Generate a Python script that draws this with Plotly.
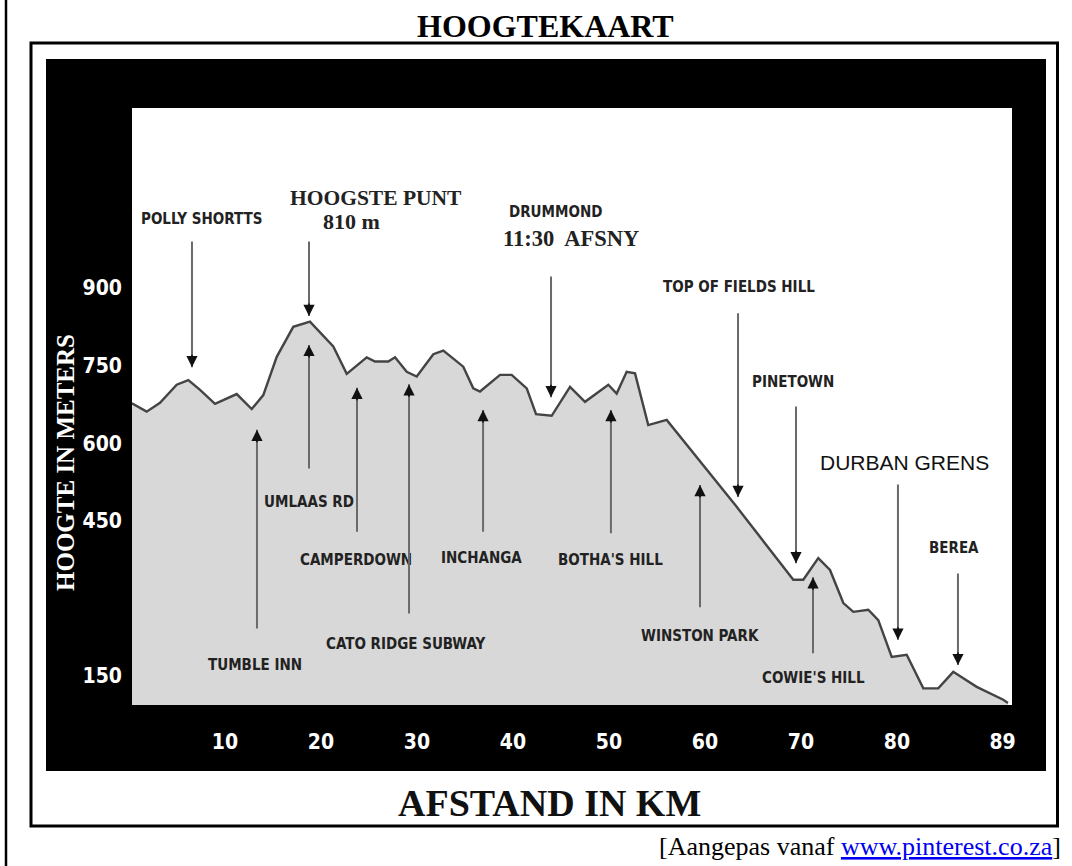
import plotly.graph_objects as go

# ---------------- data ----------------
DIST_KM = [0.3, 1.84, 3.23, 4.97, 6.18, 7.40, 8.96, 11.22, 12.78, 13.99, 15.39, 17.11,
           18.85, 21.28, 22.68, 24.76, 25.63, 27.01, 27.71, 28.93, 29.97, 31.70, 32.74,
           34.82, 35.86, 36.56, 38.65, 39.86, 41.43, 42.40, 44.03, 45.94, 47.50, 49.93,
           50.80, 51.84, 52.71, 54.09, 56.01, 63.30, 69.20, 70.24, 71.80, 73.02, 74.41,
           75.45, 77.01, 78.05, 79.45, 81.01, 82.74, 84.30, 85.86, 88.30, 91.07, 91.56]
HEIGHT_M = [677, 661, 678, 713, 722, 703, 676, 695, 666, 693, 767, 825,
            835, 787, 734, 766, 758, 758, 766, 738, 729, 772, 779,
            748, 706, 700, 732, 732, 706, 656, 653, 709, 680, 713,
            696, 738, 735, 635, 645, 477, 336, 336, 378, 355, 291,
            274, 278, 258, 187, 191, 126, 126, 158, 129, 104, 98]

X_TICK_LABELS = ["10", "20", "30", "40", "50", "60", "70", "80", "89"]
X_TICK_KM = [10, 20, 30, 40, 50, 60, 70, 80, 91]
Y_TICK_LABELS = ["150", "450", "600", "750", "900"]
Y_TICK_M = [150, 450, 600, 750, 900]

# places marked with a downward arrow (label above the profile)
DOWN_NAMES = ["POLLY SHORTTS", "HOOGSTE PUNT", "DRUMMOND", "TOP OF FIELDS HILL",
              "PINETOWN", "DURBAN GRENS", "BEREA"]
DOWN_KM = [6.56, 18.75, 43.96, 63.44, 69.48, 80.1, 86.35]
DOWN_TIP_M = [747, 846, 689, 496, 368, 220, 171]
DOWN_TAIL_M = [993, 993, 925, 854, 674, 523, 351]

# places marked with an upward arrow (label below the profile)
UP_NAMES = ["TUMBLE INN", "UMLAAS RD", "CAMPERDOWN", "CATO RIDGE SUBWAY",
            "INCHANGA", "BOTHA'S HILL", "WINSTON PARK", "COWIE'S HILL"]
UP_KM = [13.33, 18.75, 23.75, 29.17, 36.88, 50.2, 59.48, 71.25]
UP_TIP_M = [626, 790, 707, 714, 664, 664, 519, 341]
UP_TAIL_M = [239, 548, 426, 268, 426, 423, 280, 191]

# ---------------- layout helpers ----------------
W, H = 1072, 866
PL, PR, PT, PB = 132, 1012, 108, 705  # plot area in pixels


def px(xp):
    return (xp - PL) / (PR - PL)


def py(yp):
    return (PB - yp) / (PB - PT)


NARROW = "Liberation Sans Narrow, DejaVu Sans Condensed, Arial Narrow, sans-serif"
SERIF = "Liberation Serif, Times New Roman, serif"
SANS = "Liberation Sans, Arial, sans-serif"
LABEL_COL = "#222222"
SHAFT_COL = "#6a6a6a"

fig = go.Figure()
fig.add_trace(go.Scatter(
    x=DIST_KM, y=HEIGHT_M, mode="lines", fill="tozeroy",
    fillcolor="#d8d8d8", line=dict(color="#444444", width=2.4),
    hoverinfo="skip", showlegend=False))

ann = []

# label placements (data units)
down_label_pos = {
    "POLLY SHORTTS": (7.5, 1033),
    "HOOGSTE PUNT": (25.7, 1074),
    "DRUMMOND": (44.4, 1047),
    "TOP OF FIELDS HILL": (63.5, 902),
    "PINETOWN": (69.2, 718),
    "DURBAN GRENS": (80.8, 562),
    "BEREA": (85.9, 397),
}
up_label_pos = {
    "TUMBLE INN": (13.1, 171),
    "UMLAAS RD": (18.75, 486),
    "CAMPERDOWN": (23.65, 374),
    "CATO RIDGE SUBWAY": (28.85, 212),
    "INCHANGA": (36.67, 378),
    "BOTHA'S HILL": (50.2, 374),
    "WINSTON PARK": (59.48, 227),
    "COWIE'S HILL": (71.35, 146),
}


def arrow(xk, tip, tail, head_dir):
    ann.append(dict(x=xk, y=tip, ax=xk, ay=tail, xref="x", yref="y",
                    axref="x", ayref="y", text="", showarrow=True,
                    arrowhead=0, arrowwidth=2, arrowcolor=SHAFT_COL))
    ann.append(dict(x=xk, y=tip, ax=0, ay=head_dir * 14, xref="x", yref="y",
                    text="", showarrow=True, arrowhead=2, arrowsize=1.4,
                    arrowwidth=1.6, arrowcolor="#111111"))


LBL_FONT = dict(family=NARROW, size=15, color=LABEL_COL, weight="bold")

for name, xk, tip, tail in zip(DOWN_NAMES, DOWN_KM, DOWN_TIP_M, DOWN_TAIL_M):
    arrow(xk, tip, tail, -1)
    lx, ly = down_label_pos[name]
    if name == "HOOGSTE PUNT":
        font = dict(family=SERIF, size=21.5, color=LABEL_COL, weight="bold")
    elif name == "DURBAN GRENS":
        font = dict(family=SANS, size=21, color="#111111")
    else:
        font = LBL_FONT
    ann.append(dict(x=lx, y=ly, xref="x", yref="y", text=name, showarrow=False,
                    font=font))

ann.append(dict(x=23.2, y=1028, xref="x", yref="y", text="810 m", showarrow=False,
                font=dict(family=SERIF, size=22, color=LABEL_COL, weight="bold")))
ann.append(dict(x=46.0, y=995, xref="x", yref="y", text="11:30\u00a0 AFSNY",
                showarrow=False,
                font=dict(family=SERIF, size=22.5, color=LABEL_COL, weight="bold")))

for name, xk, tip, tail in zip(UP_NAMES, UP_KM, UP_TIP_M, UP_TAIL_M):
    arrow(xk, tip, tail, 1)
    lx, ly = up_label_pos[name]
    ann.append(dict(x=lx, y=ly, xref="x", yref="y", text=name, showarrow=False,
                    font=LBL_FONT))

# titles and footer
ann.append(dict(x=px(545), y=py(26), xref="paper", yref="paper", text="HOOGTEKAART",
                xanchor="center", yanchor="middle", showarrow=False,
                font=dict(family=SERIF, size=32, color="#000", weight="bold")))
ann.append(dict(x=px(549), y=py(803), xref="paper", yref="paper", text="AFSTAND IN KM",
                xanchor="center", yanchor="middle", showarrow=False,
                font=dict(family=SERIF, size=38, color="#111", weight="bold")))
ann.append(dict(x=px(66), y=py(463), xref="paper", yref="paper", text="HOOGTE IN METERS",
                xanchor="center", yanchor="middle", textangle=-90, showarrow=False,
                font=dict(family=SERIF, size=25, color="#ffffff", weight="bold")))
ann.append(dict(x=px(1063), y=py(846), xref="paper", yref="paper", xanchor="right",
                yanchor="middle",
                text="[Aangepas vanaf <a href='https://www.pinterest.co.za'>"
                     "<span style='color:#0000ee;text-decoration:underline'>www.pinterest.co.za</span></a>]",
                showarrow=False, font=dict(family=SERIF, size=26, color="#000")))

shapes = []
# black panel around the plot area (4 bands)
BL, BR, BT, BB = 46, 1046, 59, 771
for x0, y0, x1, y1 in [(BL, BT, BR, PT), (BL, PB, BR, BB), (BL, PT, PL, PB), (PR, PT, BR, PB)]:
    shapes.append(dict(type="rect", xref="paper", yref="paper", x0=px(x0), x1=px(x1),
                       y0=py(y0), y1=py(y1), fillcolor="#000", line=dict(width=0),
                       layer="below"))
# outer frame
shapes.append(dict(type="rect", xref="paper", yref="paper", x0=px(31), x1=px(1057.5),
                   y0=py(43), y1=py(826), line=dict(color="#000", width=3)))
# page edge line on the left
shapes.append(dict(type="line", xref="paper", yref="paper", x0=px(6), x1=px(6),
                   y0=py(0), y1=py(866), line=dict(color="#000", width=2.5)))

fig.update_layout(
    width=W, height=H, autosize=False,
    margin=dict(l=PL, r=W - PR, t=PT, b=H - PB, pad=0),
    paper_bgcolor="#ffffff", plot_bgcolor="#ffffff",
    showlegend=False,
    annotations=ann, shapes=shapes,
    xaxis=dict(range=[(PL - 129) / 9.6, (PR - 129) / 9.6], tickmode="array",
               tickvals=X_TICK_KM, ticktext=X_TICK_LABELS, showgrid=False,
               zeroline=False, showline=False, ticks="", ticklabelstandoff=22,
               tickfont=dict(family=NARROW, size=21, color="#ffffff", weight="bold"),
               fixedrange=True),
    yaxis=dict(range=[93.9, 1248], tickmode="array", tickvals=Y_TICK_M,
               ticktext=Y_TICK_LABELS, showgrid=False, zeroline=False, showline=False,
               ticks="", ticklabelstandoff=9,
               tickfont=dict(family=NARROW, size=21, color="#ffffff", weight="bold"),
               fixedrange=True),
)

fig.write_html("out.html",
               config={"displayModeBar": False, "staticPlot": True},
               post_script="document.body.style.margin='0';"
                           "document.body.style.overflow='hidden';")
